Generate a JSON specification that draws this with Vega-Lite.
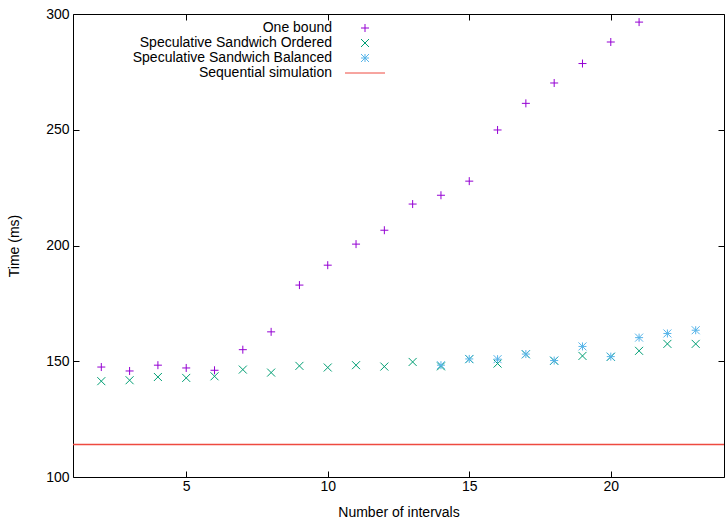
{
  "$schema": "https://vega.github.io/schema/vega-lite/v6.json",
  "width": 651,
  "height": 463,
  "autosize": {"type": "none"},
  "padding": {"left": 73, "top": 14, "right": 1, "bottom": 42},
  "background": "white",
  "config": {
    "font": "Liberation Sans",
    "view": {"stroke": "black", "strokeWidth": 1},
    "axis": {
      "grid": false,
      "domain": false,
      "tickColor": "black",
      "tickSize": -6,
      "labelFontSize": 14,
      "labelColor": "black",
      "titleFontSize": 14,
      "titleFontWeight": "normal",
      "titleColor": "black",
      "labelFont": "Liberation Sans",
      "titleFont": "Liberation Sans"
    },
    "legend": {
      "labelFont": "Liberation Sans",
      "labelFontSize": 14,
      "labelColor": "black",
      "labelLimit": 0
    }
  },
  "datasets": {
    "pts": [
      {"series": "One bound", "n": 2, "t": 147.5},
      {"series": "One bound", "n": 3, "t": 145.8},
      {"series": "One bound", "n": 4, "t": 148.3},
      {"series": "One bound", "n": 5, "t": 147.1},
      {"series": "One bound", "n": 6, "t": 146.1},
      {"series": "One bound", "n": 7, "t": 155.0},
      {"series": "One bound", "n": 8, "t": 162.7},
      {"series": "One bound", "n": 9, "t": 182.9},
      {"series": "One bound", "n": 10, "t": 191.5},
      {"series": "One bound", "n": 11, "t": 200.6},
      {"series": "One bound", "n": 12, "t": 206.6},
      {"series": "One bound", "n": 13, "t": 217.9},
      {"series": "One bound", "n": 14, "t": 221.7},
      {"series": "One bound", "n": 15, "t": 227.8},
      {"series": "One bound", "n": 16, "t": 249.9},
      {"series": "One bound", "n": 17, "t": 261.4},
      {"series": "One bound", "n": 18, "t": 270.2},
      {"series": "One bound", "n": 19, "t": 278.6},
      {"series": "One bound", "n": 20, "t": 287.9},
      {"series": "One bound", "n": 21, "t": 296.5},
      {"series": "Speculative Sandwich Ordered", "n": 2, "t": 141.4},
      {"series": "Speculative Sandwich Ordered", "n": 3, "t": 141.8},
      {"series": "Speculative Sandwich Ordered", "n": 4, "t": 143.2},
      {"series": "Speculative Sandwich Ordered", "n": 5, "t": 142.8},
      {"series": "Speculative Sandwich Ordered", "n": 6, "t": 143.5},
      {"series": "Speculative Sandwich Ordered", "n": 7, "t": 146.4},
      {"series": "Speculative Sandwich Ordered", "n": 8, "t": 145.1},
      {"series": "Speculative Sandwich Ordered", "n": 9, "t": 148.0},
      {"series": "Speculative Sandwich Ordered", "n": 10, "t": 147.3},
      {"series": "Speculative Sandwich Ordered", "n": 11, "t": 148.3},
      {"series": "Speculative Sandwich Ordered", "n": 12, "t": 147.7},
      {"series": "Speculative Sandwich Ordered", "n": 13, "t": 149.7},
      {"series": "Speculative Sandwich Ordered", "n": 14, "t": 147.8},
      {"series": "Speculative Sandwich Ordered", "n": 15, "t": 150.9},
      {"series": "Speculative Sandwich Ordered", "n": 16, "t": 149.0},
      {"series": "Speculative Sandwich Ordered", "n": 17, "t": 153.0},
      {"series": "Speculative Sandwich Ordered", "n": 18, "t": 150.2},
      {"series": "Speculative Sandwich Ordered", "n": 19, "t": 152.3},
      {"series": "Speculative Sandwich Ordered", "n": 20, "t": 151.9},
      {"series": "Speculative Sandwich Ordered", "n": 21, "t": 154.5},
      {"series": "Speculative Sandwich Ordered", "n": 22, "t": 157.5},
      {"series": "Speculative Sandwich Ordered", "n": 23, "t": 157.5},
      {"series": "Speculative Sandwich Balanced", "n": 14, "t": 148.3},
      {"series": "Speculative Sandwich Balanced", "n": 15, "t": 151.0},
      {"series": "Speculative Sandwich Balanced", "n": 16, "t": 150.9},
      {"series": "Speculative Sandwich Balanced", "n": 17, "t": 153.1},
      {"series": "Speculative Sandwich Balanced", "n": 18, "t": 150.3},
      {"series": "Speculative Sandwich Balanced", "n": 19, "t": 156.4},
      {"series": "Speculative Sandwich Balanced", "n": 20, "t": 152.0},
      {"series": "Speculative Sandwich Balanced", "n": 21, "t": 160.2},
      {"series": "Speculative Sandwich Balanced", "n": 22, "t": 162.0},
      {"series": "Speculative Sandwich Balanced", "n": 23, "t": 163.4}
    ],
    "seq": [
      {"series": "Sequential simulation", "t": 114.0}
    ]
  },
  "resolve": {"axis": {"x": "independent", "y": "independent"}},
  "layer": [
    {
      "data": {"name": "pts"},
      "transform": [{"filter": "datum.series === 'One bound'"}],
      "mark": {"type": "point", "filled": false, "strokeWidth": 1, "size": 64, "opacity": 1},
      "encoding": {
        "x": {
          "field": "n", "type": "quantitative",
          "scale": {"domain": [1, 24], "nice": false, "zero": false},
          "axis": {"orient": "bottom", "values": [5, 10, 15, 20], "title": "Number of intervals", "labelPadding": 8, "titlePadding": 12}
        },
        "y": {
          "field": "t", "type": "quantitative",
          "scale": {"domain": [100, 300], "nice": false, "zero": false},
          "axis": {"orient": "left", "values": [100, 150, 200, 250, 300], "title": "Time (ms)", "labelPadding": 10, "titlePadding": 24}
        },
        "color": {
          "field": "series", "type": "nominal",
          "scale": {
            "domain": ["One bound", "Speculative Sandwich Ordered", "Speculative Sandwich Balanced", "Sequential simulation"],
            "range": ["#9400D3", "#009E73", "#56B4E9", "#EE4A40"]
          },
          "legend": {
            "title": null,
            "orient": "none",
            "legendX": 285,
            "legendY": 7,
            "labelAlign": "right",
            "labelOffset": -40,
            "rowPadding": 1,
            "symbolSize": 64,
            "symbolStrokeWidth": 1,
            "symbolFillColor": "transparent"
          }
        },
        "shape": {
          "field": "series", "type": "nominal",
          "scale": {
            "domain": ["One bound", "Speculative Sandwich Ordered", "Speculative Sandwich Balanced", "Sequential simulation"],
            "range": ["M-1,0H1M0,-1V1", "M-1,-1L1,1M-1,1L1,-1", "M-1,0H1M0,-1V1M-1,-1L1,1M-1,1L1,-1", "M-5,0H5"]
          },
          "legend": {
            "title": null,
            "orient": "none",
            "legendX": 285,
            "legendY": 7,
            "labelAlign": "right",
            "labelOffset": -40,
            "rowPadding": 1,
            "symbolSize": 64,
            "symbolStrokeWidth": 1,
            "symbolFillColor": "transparent"
          }
        }
      }
    },
    {
      "data": {"name": "pts"},
      "transform": [{"filter": "datum.series !== 'One bound'"}],
      "mark": {"type": "point", "filled": false, "strokeWidth": 1, "size": 64, "opacity": 1},
      "encoding": {
        "x": {
          "field": "n", "type": "quantitative",
          "axis": {"orient": "top", "values": [5, 10, 15, 20], "labels": false, "title": null}
        },
        "y": {
          "field": "t", "type": "quantitative",
          "axis": {"orient": "right", "values": [100, 150, 200, 250, 300], "labels": false, "title": null}
        },
        "color": {"field": "series", "type": "nominal"},
        "shape": {"field": "series", "type": "nominal"}
      }
    },
    {
      "data": {"name": "seq"},
      "mark": {"type": "rule", "strokeWidth": 1.5},
      "encoding": {
        "y": {"field": "t", "type": "quantitative", "axis": null},
        "color": {"field": "series", "type": "nominal"}
      }
    }
  ]
}
